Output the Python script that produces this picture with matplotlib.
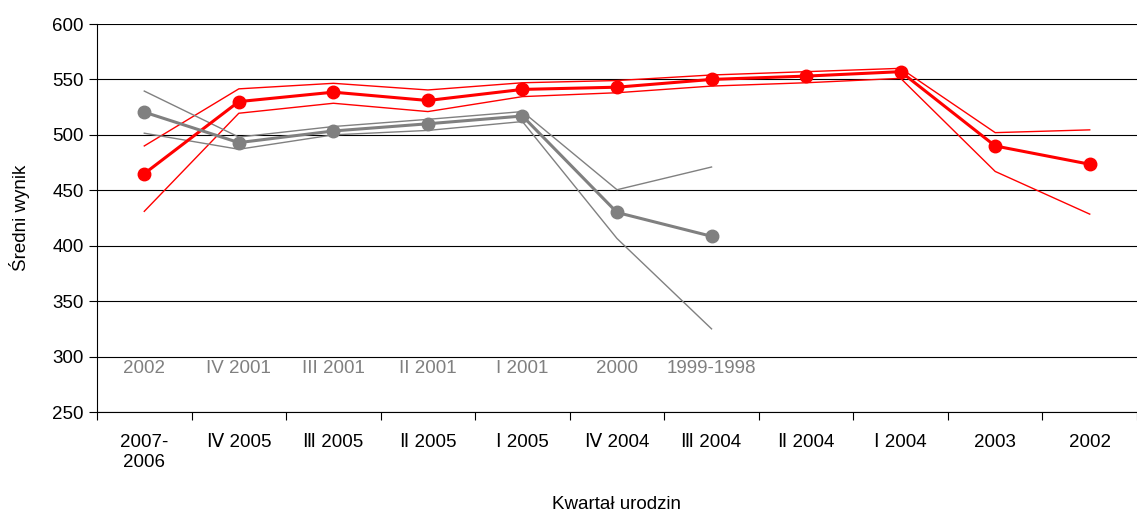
import matplotlib.pyplot as plt

plt.rcParams['font.family'] = ['Liberation Sans', 'DejaVu Sans']

# kategorie na osi X
kwartaly = ["2007-\n2006", "Ⅳ 2005", "Ⅲ 2005", "Ⅱ 2005", "Ⅰ 2005", "Ⅳ 2004",
            "Ⅲ 2004", "Ⅱ 2004", "Ⅰ 2004", "2003", "2002"]
kwartaly_stare = ["2002", "IV 2001", "III 2001", "II 2001", "I 2001", "2000", "1999-1998"]

# nowa kohorta (czerwona): średnia i granice przedziału
czerw_sr = [465, 530, 538.5, 531, 541, 543, 550, 553, 557, 490, 473.5]
czerw_gora = [490, 541.5, 546.5, 540.5, 547, 549, 554, 557, 560, 502, 504.5]
czerw_dol = [431, 519.5, 528.5, 521, 534.5, 538, 544, 547, 551, 467, 428.5]

# starsza kohorta (szara)
szary_sr = [520.5, 493, 503.5, 510, 517, 430, 408.5]
szary_gora = [539.5, 498, 507.5, 514, 521, 450.5, 471]
szary_dol = [501.5, 487, 500, 504, 512, 406.5, 325]

fig = plt.figure(figsize=(11.37, 5.14), dpi=100)
ax = fig.add_axes([97 / 1137, 1 - 412 / 514, 1 - 97 / 1137, (412 - 24) / 514])

x = list(range(len(kwartaly)))
xs = x[:len(szary_sr)]

ax.plot(x, czerw_gora, color='red', lw=1, zorder=3)
ax.plot(x, czerw_dol, color='red', lw=1, zorder=3)
ax.plot(x, czerw_sr, color='red', lw=2.2, marker='o', markersize=9, zorder=4)

ax.plot(xs, szary_gora, color='#808080', lw=1, zorder=3)
ax.plot(xs, szary_dol, color='#808080', lw=1, zorder=3)
ax.plot(xs, szary_sr, color='#808080', lw=2.2, marker='o', markersize=9, zorder=4)

for i, lab in enumerate(kwartaly_stare):
    ax.text(i, 289, lab, color='#808080', fontsize=13.5, ha='center', va='center')

ax.set_ylim(250, 600)
ax.set_yticks(range(250, 601, 50))
ax.yaxis.grid(True, color='black', lw=0.8)
ax.set_axisbelow(True)

ax.set_xlim(-0.5, 10.33)
ax.set_xticks([i + 0.5 for i in range(-1, 11)], minor=False)
ax.set_xticklabels([])
ax.set_xticks(x, minor=True)
ax.set_xticklabels(kwartaly, minor=True, fontsize=13.5)
ax.tick_params(axis='x', which='minor', length=0, pad=16)
ax.tick_params(axis='x', which='major', length=6, direction='out')
ax.tick_params(axis='y', labelsize=13.5, length=6)

for s in ['top', 'right']:
    ax.spines[s].set_visible(False)

ax.set_ylabel("Średni wynik", fontsize=13.5, labelpad=16)
ax.set_xlabel("Kwartał urodzin", fontsize=13.5, labelpad=18)

fig.savefig("out.png", dpi=100)
